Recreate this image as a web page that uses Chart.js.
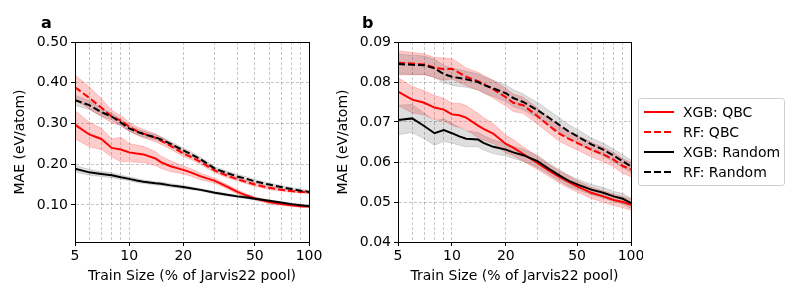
<!DOCTYPE html>
<html>
<head>
<meta charset="utf-8">
<script src="https://cdn.jsdelivr.net/npm/chart.js@4"></script>
<style>
  body { margin:0; background:#fff; font-family:"DejaVu Sans", sans-serif; }
  #wrap { position:relative; width:800px; height:300px; }
  canvas { position:absolute; top:0; }
  .lab { position:absolute; font-weight:bold; font-size:16px; }
  #legend { position:absolute; left:638px; top:98px; width:145px; height:86px;
    border:1px solid #d0d0d0; border-radius:3px; background:rgba(255,255,255,0.85); }
  .row { position:absolute; left:4px; height:20px; font-size:14px; line-height:20px; white-space:nowrap; }
  .row svg { position:absolute; left:0; top:5px; }
  .row span { position:absolute; left:40px; top:0; }
</style>
</head>
<body>
<div id="wrap">
  <canvas id="chartA" width="332" height="300" style="left:0"></canvas>
  <canvas id="chartB" width="320" height="300" style="left:323px"></canvas>
  <div class="lab" style="left:41px; top:13px">a</div>
  <div class="lab" style="left:362px; top:13px">b</div>
  <div id="legend"></div>
</div>
<script>
// train size (% of pool)
const trainSize = [5,6,7,8,9,10,11,12,14,15,17,20,22,25,30,35,40,45,50,60,70,80,90,100];
const majorTicks = [5,10,20,50,100];
const xTicks = [5,6,7,8,9,10,20,30,40,50,60,70,80,90,100];

// panel a: MAE mean and spread
const aXgbQbc = [.297,.273,.262,.240,.236,.229,.226,.224,.214,.205,.195,.186,.180,.170,.159,.145,.132,.123,.116,.107,.102,.099,.097,.096];
const aRfQbc = [.389,.363,.339,.317,.307,.292,.282,.275,.265,.258,.245,.226,.218,.205,.184,.172,.163,.156,.150,.142,.137,.134,.132,.131];
const aXgbRand = [.189,.180,.176,.173,.168,.164,.160,.157,.153,.152,.148,.144,.141,.137,.130,.125,.121,.118,.115,.110,.106,.102,.099,.097];
const aRfRand = [.357,.345,.328,.317,.302,.288,.280,.274,.266,.261,.250,.234,.225,.212,.189,.178,.170,.164,.158,.150,.144,.139,.135,.132];
const aXgbQbcSd = [.035,.030,.026,.022,.030,.022,.021,.020,.017,.015,.013,.010,.009,.008,.006,.005,.005,.004,.004,.004,.003,.003,.003,.003];
const aRfQbcSd = [.030,.027,.022,.015,.012,.011,.010,.010,.010,.009,.008,.007,.006,.006,.005,.005,.004,.004,.004,.004,.003,.003,.003,.003];
const aXgbRandSd = [.008,.007,.006,.006,.005,.005,.005,.004,.004,.004,.004,.004,.003,.003,.003,.003,.003,.003,.003,.003,.002,.002,.002,.002];
const aRfRandSd = [.012,.011,.010,.008,.008,.007,.007,.007,.006,.006,.006,.006,.006,.005,.005,.005,.005,.005,.004,.004,.004,.004,.004,.004];
const aYTicks = [0.1,0.2,0.3,0.4,0.5];

// panel b
const bXgbQbc = [.0776,.0756,.0748,.0736,.0731,.0719,.0717,.0711,.0691,.0683,.0671,.0645,.0636,.0620,.0598,.0578,.0562,.0550,.0539,.0523,.0514,.0505,.0500,.0493];
const bRfQbc = [.0848,.0846,.0844,.0836,.0832,.0833,.0823,.0813,.0802,.0795,.0782,.0762,.0748,.0742,.0715,.0690,.0670,.0658,.0648,.0631,.0619,.0606,.0590,.0581];
const bXgbRand = [.0705,.0709,.0690,.0672,.0680,.0672,.0664,.0658,.0656,.0648,.0638,.0631,.0624,.0617,.0602,.0582,.0566,.0553,.0544,.0531,.0523,.0514,.0508,.0497];
const bRfRand = [.0845,.0843,.0842,.0834,.0820,.0813,.0810,.0807,.0800,.0793,.0784,.0772,.0760,.0750,.0730,.0710,.0692,.0676,.0665,.0644,.0631,.0616,.0602,.0589];
const bXgbQbcSd = [.0035,.0033,.0030,.0030,.0028,.0028,.0030,.0030,.0030,.0028,.0025,.0022,.0020,.0018,.0016,.0015,.0015,.0015,.0014,.0014,.0014,.0014,.0014,.0014];
const bRfQbcSd = [.0030,.0028,.0026,.0025,.0028,.0025,.0024,.0022,.0022,.0022,.0022,.0022,.0022,.0020,.0020,.0019,.0019,.0018,.0018,.0018,.0018,.0018,.0018,.0018];
const bXgbRandSd = [.0037,.0035,.0032,.0030,.0028,.0025,.0022,.0020,.0018,.0018,.0017,.0016,.0015,.0015,.0015,.0014,.0014,.0014,.0013,.0013,.0013,.0013,.0013,.0013];
const bRfRandSd = [.0025,.0024,.0023,.0022,.0022,.0021,.0021,.0020,.0020,.0020,.0020,.0021,.0021,.0020,.0019,.0018,.0018,.0017,.0017,.0016,.0016,.0016,.0016,.0016];
const bYTicks = [0.04,0.05,0.06,0.07,0.08,0.09];

const seriesNames = ["XGB: QBC","RF: QBC","XGB: Random","RF: Random"];
const RED = "#ff0000", BLACK = "#000000";
const DASH = [7,3];

Chart.defaults.font.family = "DejaVu Sans";
Chart.defaults.font.size = 14;
Chart.defaults.color = "#000";

function pts(ys){ return trainSize.map((x,i) => ({x:x, y:ys[i]})); }
function shifted(ys, sd, sign){ return trainSize.map((x,i) => ({x:x, y:ys[i] + sign*sd[i]})); }

function lineSet(label, ys, color, dashed){
  return { label: label, data: pts(ys), borderColor: color, borderWidth: 2,
    borderDash: dashed ? DASH : [], pointRadius: 0, fill: false, tension: 0 };
}
function bandSets(ys, sd, fillColor){
  return [
    { data: shifted(ys, sd, 1), borderColor: fillColor, borderWidth: 1, backgroundColor: fillColor,
      pointRadius: 0, fill: "+1", tension: 0 },
    { data: shifted(ys, sd, -1), borderColor: fillColor, borderWidth: 1,
      pointRadius: 0, fill: false, tension: 0 }
  ];
}

const frame = {
  id: "frame",
  afterDatasetsDraw(chart){
    const a = chart.chartArea, c = chart.ctx;
    c.save();
    c.strokeStyle = "#000";
    c.lineWidth = 1;
    c.strokeRect(Math.round(a.left)+0.5, Math.round(a.top)+0.5, Math.round(a.right-a.left), Math.round(a.bottom-a.top));
    c.restore();
  }
};

function makeChart(id, s, yMin, yMax, yTicks, padRight){
  const redBand = "rgba(255,0,0,0.2)", grayBand = "rgba(0,0,0,0.13)";
  const datasets = [
    lineSet(seriesNames[3], s.rfR, BLACK, true),
    lineSet(seriesNames[2], s.xgbR, BLACK, false),
    lineSet(seriesNames[1], s.rfQ, RED, true),
    lineSet(seriesNames[0], s.xgbQ, RED, false),
    ...bandSets(s.rfR, s.rfRSd, grayBand),
    ...bandSets(s.xgbR, s.xgbRSd, grayBand),
    ...bandSets(s.rfQ, s.rfQSd, redBand),
    ...bandSets(s.xgbQ, s.xgbQSd, redBand)
  ];
  return new Chart(document.getElementById(id), {
    type: "line",
    data: { datasets: datasets },
    options: {
      responsive: false,
      animation: false,
      layout: { padding: { top: 42, right: padRight, bottom: 0, left: 0 } },
      plugins: { legend: { display: false }, tooltip: { enabled: false } },
      scales: {
        x: {
          type: "logarithmic", min: 5, max: 100,
          afterBuildTicks: sc => { sc.ticks = xTicks.map(v => ({ value: v, major: majorTicks.includes(v) })); },
          afterFit: sc => { sc.height = 58; sc.paddingLeft = 0; sc.paddingRight = 0; },
          ticks: { autoSkip: false, maxRotation: 0, padding: 2,
            callback: v => majorTicks.includes(v) ? String(v) : "" },
          grid: { color: "rgba(0,0,0,0.28)", lineWidth: 0.8, tickLength: 4,
            tickColor: ctx => (ctx.tick && majorTicks.includes(ctx.tick.value)) ? "#000" : "rgba(0,0,0,0)",
            tickWidth: 1, tickBorderDash: [] },
          border: { color: "#000", width: 1, dash: [3,2] },
          title: { display: true, text: "Train Size (% of Jarvis22 pool)", padding: { top: 0, bottom: 15 } }
        },
        y: {
          min: yMin, max: yMax,
          afterBuildTicks: sc => { sc.ticks = yTicks.map(v => ({ value: v })); },
          afterFit: sc => { sc.width = 75; sc.paddingTop = 0; sc.paddingBottom = 0; },
          ticks: { padding: 3, callback: v => Number(v).toFixed(2) },
          grid: { color: "rgba(0,0,0,0.28)", lineWidth: 0.8, tickLength: 4, tickColor: "#000", tickWidth: 1, tickBorderDash: [] },
          border: { color: "#000", width: 1, dash: [3,2] },
          title: { display: true, text: "MAE (eV/atom)", padding: { top: 12, bottom: 0 } }
        }
      }
    },
    plugins: [frame]
  });
}

makeChart("chartA", {
  xgbQ: aXgbQbc, rfQ: aRfQbc, xgbR: aXgbRand, rfR: aRfRand,
  xgbQSd: aXgbQbcSd, rfQSd: aRfQbcSd, xgbRSd: aXgbRandSd, rfRSd: aRfRandSd
}, 0.009, 0.5, aYTicks, 23);

makeChart("chartB", {
  xgbQ: bXgbQbc, rfQ: bRfQbc, xgbR: bXgbRand, rfR: bRfRand,
  xgbQSd: bXgbQbcSd, rfQSd: bRfQbcSd, xgbRSd: bXgbRandSd, rfRSd: bRfRandSd
}, 0.04, 0.09, bYTicks, 12);

// legend
var legendColors = [RED, RED, BLACK, BLACK];
var legendDash = [false, true, false, true];
var leg = document.getElementById("legend");
seriesNames.forEach(function(name, i){
  var row = document.createElement("div");
  row.className = "row";
  row.style.top = (3 + i*20) + "px";
  row.innerHTML = '<svg width="32" height="10"><line x1="1" y1="5" x2="31" y2="5" stroke="' + legendColors[i] +
    '" stroke-width="2"' + (legendDash[i] ? ' stroke-dasharray="7,3"' : '') + '/></svg><span>' + name + '</span>';
  leg.appendChild(row);
});
</script>
</body>
</html>
